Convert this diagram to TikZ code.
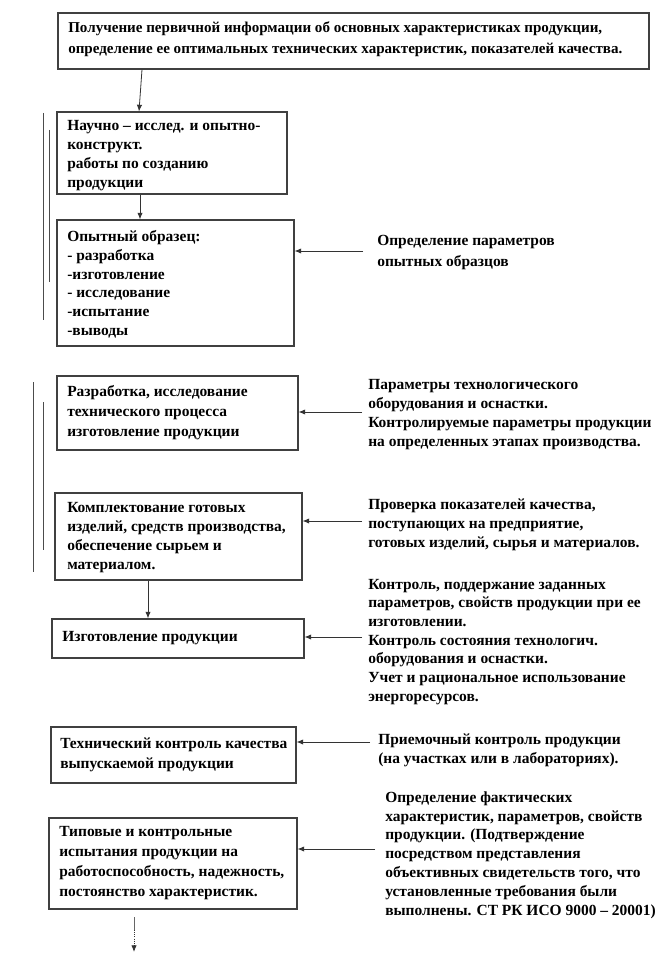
\documentclass[tikz,border=0pt]{standalone}
\usepackage{fontspec}
\setmainfont{Liberation Serif}
\usetikzlibrary{arrows.meta,fit}
\tikzset{
  box/.style={draw=black!75, line width=0.8pt, inner sep=0pt},
  txt/.style={anchor=base west, inner sep=0pt, align=left,
    font=\bfseries\fontsize{11.6pt}{#1}\selectfont},
  txt/.default=14pt,
  arr/.style={draw=black!80, line width=0.6pt, -{Latex[length=5pt,width=4pt]}},
  side/.style={draw=black!70, line width=0.7pt}
}
\begin{document}
\begin{tikzpicture}[x=0.75pt,y=-0.75pt]
\useasboundingbox[fill=white] (0,0) rectangle (670,955);

% boxes
\node[box, fit={(58,13) (649,69)}] (b1) {};
\node[box, fit={(57,112) (287,194)}] (b2) {};
\node[box, fit={(57,220) (294,346)}] (b3) {};
\node[box, fit={(57,376) (298,450)}] (b4) {};
\node[box, fit={(55,493) (302,580)}] (b5) {};
\node[box, fit={(52,619) (304,658)}] (b6) {};
\node[box, fit={(51,727) (296,783)}] (b7) {};
\node[box, fit={(49,818) (297,909)}] (b8) {};

% box texts (anchored at the baseline of the last line)
\node[txt=15.75pt, font=\bfseries\fontsize{11.3pt}{15.75pt}\selectfont] (t1) at (68,54) {Получение первичной информации об основных характеристиках  продукции,\\определение ее оптимальных технических  характеристик, показателей качества.};
\node[txt=14.25pt] (t2) at (67,188) {Научно – исслед. и опытно-\\конструкт.\\работы по созданию\\продукции};
\node[txt=14pt] (t3) at (67,335) {Опытный образец:\\- разработка\\-изготовление\\- исследование\\-испытание\\-выводы};
\node[txt=15pt] (t4) at (67,436) {Разработка, исследование\\технического  процесса\\изготовление продукции};
\node[txt=14.25pt] (t5) at (67,569) {Комплектование готовых\\изделий, средств производства,\\обеспечение сырьем и\\материалом.};
\node[txt] (t6) at (62,641) {Изготовление продукции};
\node[txt=15pt] (t7) at (60,768) {Технический контроль качества\\выпускаемой продукции};
\node[txt=14.8pt] (t8) at (59,896) {Типовые и контрольные\\испытания продукции на\\работоспособность, надежность,\\постоянство характеристик.};

% right texts
\node[txt=15.75pt] (r3) at (377,267) {Определение параметров\\опытных образцов};
\node[txt=14.25pt] (r4) at (368,446) {Параметры технологического\\оборудования и оснастки.\\Контролируемые параметры продукции\\на определенных этапах производства.};
\node[txt=14.25pt] (r5) at (368,547) {Проверка показателей качества,\\поступающих  на предприятие,\\готовых изделий, сырья и материалов.};
\node[txt=14pt] (r6) at (368,701) {Контроль, поддержание заданных\\параметров, свойств продукции при ее\\изготовлении.\\Контроль состояния технологич.\\оборудования и оснастки.\\Учет и рациональное использование\\энергоресурсов.};
\node[txt=14.25pt] (r7) at (378,763) {Приемочный контроль продукции\\(на участках  или в лабораториях).};
\node[txt=14.1pt] (r8) at (385,915) {Определение фактических\\характеристик, параметров, свойств\\продукции. (Подтверждение\\посредством представления\\объективных свидетельств того, что\\установленные требования были\\выполнены. СТ РК ИСО 9000 – 20001)};

% vertical connectors
\coordinate (v1a) at (142,0);
\coordinate (v1b) at (139,0);
\coordinate (v2) at (140,0);
\coordinate (v5) at (148,0);
\draw[arr] (b1.south -| v1a) -- (b2.north -| v1b);
\draw[arr] (b2.south -| v2) -- (b3.north -| v2);
\draw[arr] (b5.south -| v5) -- (b6.north -| v5);

% horizontal connectors
\coordinate (a3) at (363,251);
\coordinate (a4) at (362,412);
\coordinate (a5) at (362,521);
\coordinate (a6) at (362,637);
\coordinate (a7) at (370,742);
\coordinate (a8) at (375,849);
\draw[arr] (a3) -- (a3 -| b3.east);
\draw[arr] (a4) -- (a4 -| b4.east);
\draw[arr] (a5) -- (a5 -| b5.east);
\draw[arr] (a6) -- (a6 -| b6.east);
\draw[arr] (a7) -- (a7 -| b7.east);
\draw[arr] (a8) -- (a8 -| b8.east);

% bottom arrow
\coordinate (e0) at (134,917);
\coordinate (e1) at (134,930);
\coordinate (e2) at (134,952);
\draw[draw=black!60, line width=0.6pt] (e0) -- (e1);
\draw[arr, densely dotted] (e1) -- (e2);

% side brackets
\draw[side] (43,113) -- (43,320);
\draw[side] (49,130) -- (49,282);
\draw[side] (33,382) -- (33,572);
\draw[side] (43,402) -- (43,550);
\end{tikzpicture}
\end{document}
